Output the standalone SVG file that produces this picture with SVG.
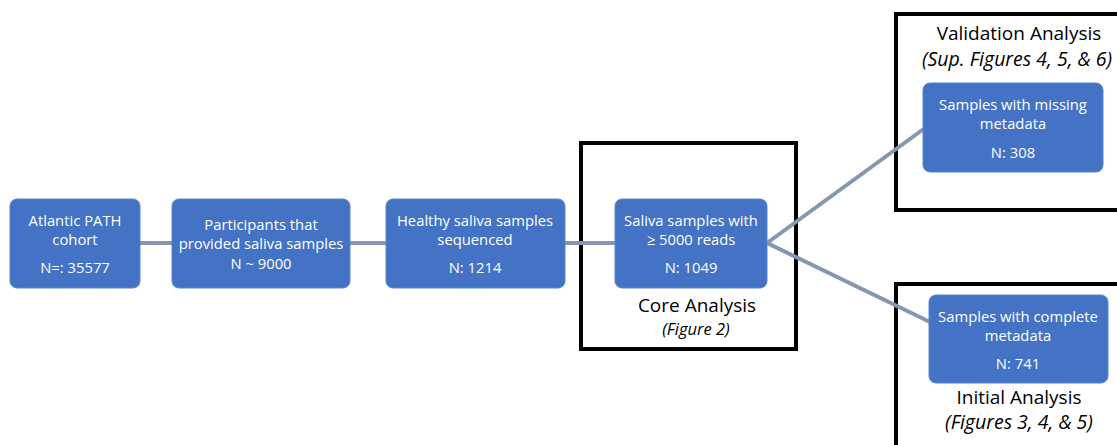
<svg xmlns="http://www.w3.org/2000/svg" width="1117" height="445" viewBox="0 0 1117 445">
<style>
.node rect{fill:#4472C4;stroke:#5b84cc;stroke-width:1}
.node text{fill:#ffffff;font-family:"Open Sans",sans-serif;font-size:14.8px;text-anchor:middle}
.frame{fill:none;stroke:#000;stroke-width:4}
.title{font-family:"Open Sans",sans-serif;font-size:19px;fill:#000;text-anchor:middle}
.sub{font-family:"Open Sans",sans-serif;font-size:19.5px;font-style:italic;fill:#000;text-anchor:middle}
.sub2{font-family:"Open Sans",sans-serif;font-size:16.5px;font-style:italic;fill:#000;text-anchor:middle}
#connectors line{stroke:#8497B0;stroke-width:4}
</style>
<rect width="1117" height="445" fill="#fff"/>
<g id="frames">
<rect class="frame" x="581" y="143" width="215" height="206"/>
<rect class="frame" x="896" y="14" width="240" height="196"/>
<rect class="frame" x="896" y="284" width="240" height="200"/>
<text class="title" x="697" y="312">Core Analysis</text>
<text class="sub2" x="696" y="335">(Figure 2)</text>
<text class="title" x="1019" y="40">Validation Analysis</text>
<text class="sub" x="1017" y="66">(Sup. Figures 4, 5, &amp; 6)</text>
<text class="title" x="1019" y="404">Initial Analysis</text>
<text class="sub" x="1019" y="429">(Figures 3, 4, &amp; 5)</text>
</g>
<g id="connectors">
<line x1="140" y1="243" x2="172" y2="243"/>
<line x1="350" y1="243" x2="386" y2="243"/>
<line x1="565" y1="243" x2="615" y2="243"/>
<line x1="767" y1="243" x2="925" y2="128"/>
<line x1="767" y1="243" x2="930" y2="322"/>
</g>
<g id="n1" class="node">
<rect x="10" y="199" width="130" height="89" rx="7"/>
<text x="75" y="226">Atlantic PATH</text>
<text x="75" y="245">cohort</text>
<text x="75" y="273">N=: 35577</text>
</g>
<g id="n2" class="node">
<rect x="172" y="199" width="178" height="89" rx="7"/>
<text x="261" y="230">Participants that</text>
<text x="261" y="249">provided saliva samples</text>
<text x="261" y="269">N ~ 9000</text>
</g>
<g id="n3" class="node">
<rect x="386" y="199" width="179" height="89" rx="7"/>
<text x="475" y="226">Healthy saliva samples</text>
<text x="475" y="245">sequenced</text>
<text x="475" y="273">N: 1214</text>
</g>
<g id="n4" class="node">
<rect x="615" y="199" width="152" height="89" rx="7"/>
<text x="691" y="226">Saliva samples with</text>
<text x="691" y="245">≥ 5000 reads</text>
<text x="691" y="273">N: 1049</text>
</g>
<g id="n5" class="node">
<rect x="923" y="83" width="180" height="89" rx="7"/>
<text x="1013" y="110">Samples with missing</text>
<text x="1013" y="129">metadata</text>
<text x="1013" y="158">N: 308</text>
</g>
<g id="n6" class="node">
<rect x="929" y="295" width="179" height="88" rx="7"/>
<text x="1018" y="322">Samples with complete</text>
<text x="1018" y="341">metadata</text>
<text x="1018" y="369">N: 741</text>
</g>
</svg>
